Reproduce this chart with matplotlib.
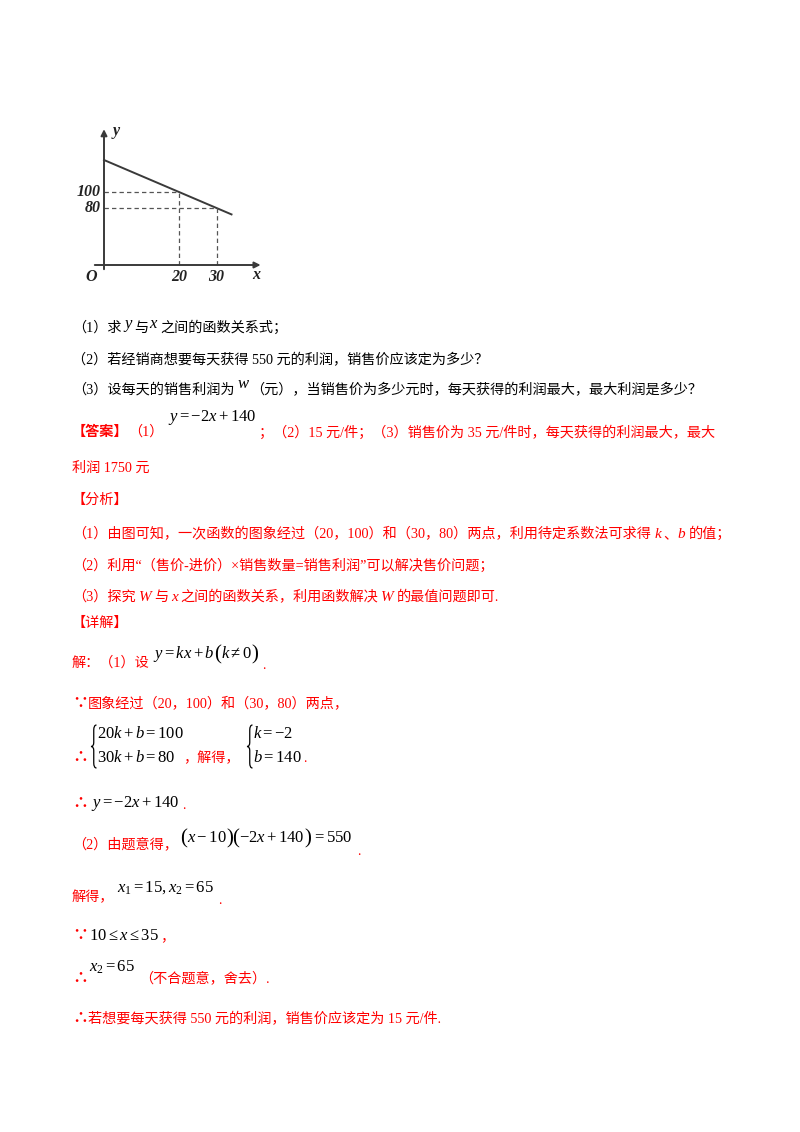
import matplotlib
matplotlib.use("Agg")
import matplotlib.pyplot as plt
from matplotlib.path import Path
from matplotlib.patches import PathPatch

# chart data
line_x = [0, 20, 30, 34]
line_y = [140, 100, 80, 72]
pts_x = [20, 30]
pts_y = [100, 80]
xtick_labels = ["20", "30"]
ytick_labels = ["100", "80"]

plt.rcParams['mathtext.fontset'] = 'custom'
plt.rcParams['mathtext.rm'] = 'Liberation Serif'
plt.rcParams['mathtext.it'] = 'Liberation Serif:italic'
plt.rcParams['mathtext.bf'] = 'Liberation Serif:bold'

FAM = ['Liberation Serif', 'Noto Sans CJK SC', 'DejaVu Sans']
CJK = ['Noto Sans CJK SC', 'DejaVu Sans']
RED = '#ff0000'
W, H = 800, 1132
FS = 10.2

fig = plt.figure(figsize=(8, 11.32), dpi=100)
fig.patch.set_facecolor('white')
renderer = fig.canvas.get_renderer()


def put(x, y, s, color='black', size=FS, fam=FAM, **kw):
    # x, y in page pixels (y = baseline, from top); returns right edge
    t = fig.text(x / W, 1 - y / H, s, color=color, fontsize=size,
                 family=fam, va='baseline', ha='left', **kw)
    bb = t.get_window_extent(renderer)
    return bb.x1


def dots(x, y, s):
    # the red "because" / "therefore" signs
    return put(x, y, s, color=RED, size=11.5, fam=CJK, fontweight='bold')


def brace(x, y0, y1):
    ym = (y0 + y1) / 2
    w = 5.5
    m = x + w / 2
    pts = [(x + w, y0), (m, y0), (m, y0 + 5), (m, ym - 4), (m, ym), (x, ym),
           (m, ym), (m, ym + 4), (m, y1 - 5), (m, y1), (x + w, y1)]
    codes = [Path.MOVETO, Path.CURVE3, Path.CURVE3, Path.LINETO,
             Path.CURVE3, Path.CURVE3, Path.CURVE3, Path.CURVE3,
             Path.LINETO, Path.CURVE3, Path.CURVE3]
    pts = [(px / W, 1 - py / H) for px, py in pts]
    fig.add_artist(PathPatch(Path(pts, codes), transform=fig.transFigure,
                             fill=False, lw=0.9, edgecolor='black'))


# ---- the small graph ----
ax = fig.add_axes([80 / W, 1 - 285 / H, 195 / W, 165 / H])
ax.set_xlim(-6.4, 45.6)
ax.set_ylim(-16.25, 190)
ax.axis('off')
Y0 = 8.75  # where the x axis is drawn
axc = '#3a3a3a'
ax.annotate('', xy=(0, 182), xytext=(0, 0),
            arrowprops=dict(arrowstyle='-|>', lw=1.4, color=axc, mutation_scale=9))
ax.annotate('', xy=(42.5, Y0), xytext=(-3.2, Y0),
            arrowprops=dict(arrowstyle='-|>', lw=1.4, color=axc, mutation_scale=9))
ax.plot(line_x, line_y, color=axc, lw=1.4)
for px, py in zip(pts_x, pts_y):
    ax.plot([0, px], [py, py], ls=(0, (3.5, 2.5)), lw=0.9, color='#555555')
    ax.plot([px, px], [Y0, py], ls=(0, (3.5, 2.5)), lw=0.9, color='#555555')
lab = dict(family='Liberation Serif', fontweight='bold', fontstyle='italic',
           fontsize=11.5, color='#222222')
for px, s in zip(pts_x, xtick_labels):
    ax.text(px, Y0 - 5, s, ha='center', va='top', **lab)
for py, s in zip(pts_y, ytick_labels):
    ax.text(-1.0, py, s, ha='right', va='center', **lab)
ax.text(-1.8, Y0 - 5, 'O', ha='right', va='top', **lab)
ax.text(39.5, Y0 - 3, 'x', ha='left', va='top', **lab)
ax.text(2.2, 176, 'y', ha='left', va='center', **lab)

# ---- questions ----
x = put(72, 332, "（1）求")
x = put(x + 1, 328, "$y$", size=12)
x = put(x + 1, 332, "与")
x = put(x + 1, 328, "$x$", size=12)
put(x + 1, 332, "之间的函数关系式；")

put(72, 364, "（2）若经销商想要每天获得 550 元的利润，销售价应该定为多少？")

x = put(72, 394, "（3）设每天的销售利润为")
x = put(x + 2, 388, "$w$", size=12)
put(x + 1, 394, "（元），当销售价为多少元时，每天获得的利润最大，最大利润是多少？")

# ---- answer ----
x = put(72, 436, "【答案】", color=RED, fontweight='bold')
x = put(x, 436, "（1）", color=RED)
put(168, 421, "$y=-2x+140$", size=12)
put(259, 437, "；（2）15 元/件；（3）销售价为 35 元/件时，每天获得的利润最大，最大", color=RED)
put(72, 472, "利润 1750 元", color=RED)

# ---- analysis ----
put(72, 504, "【分析】", color=RED)
x = put(72, 538, "（1）由图可知，一次函数的图象经过（20，100）和（30，80）两点，利用待定系数法可求得", color=RED)
x = put(x + 3, 538, "$k$", color=RED, size=11)
x = put(x, 538, "、", color=RED)
x = put(x, 538, "$b$", color=RED, size=11)
put(x + 3, 538, "的值；", color=RED)
put(72, 570, "（2）利用“（售价-进价）×销售数量=销售利润”可以解决售价问题；", color=RED)
x = put(72, 601, "（3）探究", color=RED)
x = put(x + 2, 601, "$W$", color=RED, size=11)
x = put(x + 1, 601, "与", color=RED)
x = put(x + 2, 601, "$x$", color=RED, size=11)
x = put(x + 1, 601, "之间的函数关系，利用函数解决", color=RED)
x = put(x + 2, 601, "$W$", color=RED, size=11)
put(x + 1, 601, "的最值问题即可.", color=RED)

# ---- detailed solution ----
put(72, 627, "【详解】", color=RED)
x = put(72, 667, "解：（1）设", color=RED)
x = put(153, 658, "$y=kx+b$", size=12)
x = put(x - 1, 659, "(", size=15, fontweight='light')
x = put(x, 658, r"$k\neq0$", size=12)
x = put(x, 659, ")", size=15, fontweight='light')
put(x + 4, 669, ".", color=RED)

x = dots(72, 708, "∵")
put(x, 708, "图象经过（20，100）和（30，80）两点，", color=RED)

dots(72, 762, "∴")
brace(91, 725, 768)
put(97, 738, "$20k+b=100$", size=12)
put(97, 762, "$30k+b=80$", size=12)
put(183, 762, "，解得，", color=RED)
brace(247, 725, 768)
put(253, 738, "$k=-2$", size=12)
x = put(253, 762, "$b=140$", size=12)
put(x + 1, 762, ".", color=RED)

x = dots(72, 808, "∴")
x = put(x + 3, 807, "$y=-2x+140$", size=12)
put(x + 3, 809, ".", color=RED)

put(72, 848, "（2）由题意得，", color=RED)
x = put(180, 843, "(", size=15)
x = put(x, 842, "$x-10$", size=12)
x = put(x, 843, ")", size=15)
x = put(x - 1, 843, "(", size=15)
x = put(x, 842, "$-2x+140$", size=12)
x = put(x, 843, ")", size=15)
x = put(x, 842, "$=550$", size=12)
put(x + 5, 855, ".", color=RED)

put(72, 901, "解得，", color=RED)
x = put(117, 892, "$x_1=15,x_2=65$", size=12)
put(x + 4, 904, ".", color=RED)

x = dots(72, 940, "∵")
x = put(x + 1, 940, r"$10\leq x\leq35$", size=12)
put(x + 1, 940, "，", color=RED)

dots(72, 983, "∴")
x = put(89, 972, "$x_2=65$", size=12)
put(x + 4, 982, "（不合题意，舍去）.", color=RED)

x = dots(72, 1023, "∴")
put(x, 1023, "若想要每天获得 550 元的利润，销售价应该定为 15 元/件.", color=RED)

fig.savefig("out.png", dpi=100, facecolor='white')
